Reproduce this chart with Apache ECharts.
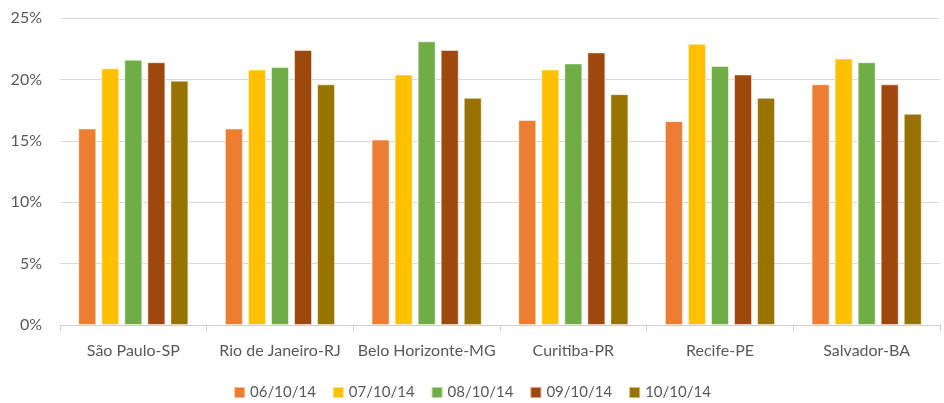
<!DOCTYPE html>
<html>
<head>
<meta charset="utf-8">
<script src="https://cdn.jsdelivr.net/npm/echarts@6/dist/echarts.min.js"></script>
<style>
  html, body { margin: 0; padding: 0; background: #fff; }
  #main { width: 944px; height: 403px; }
</style>
</head>
<body>
<div id="main"></div>
<script>
// cities on the x axis
const cities = ['São Paulo-SP', 'Rio de Janeiro-RJ', 'Belo Horizonte-MG', 'Curitiba-PR', 'Recife-PE', 'Salvador-BA'];
const dates = ['06/10/14', '07/10/14', '08/10/14', '09/10/14', '10/10/14'];
const colors = ['#ED7D31', '#FFC000', '#70AD47', '#9E480E', '#997300'];

// percent values per date
const d0610 = [16.0, 16.0, 15.1, 16.7, 16.6, 19.6];
const d0710 = [20.9, 20.8, 20.4, 20.8, 22.9, 21.7];
const d0810 = [21.6, 21.0, 23.1, 21.3, 21.1, 21.4];
const d0910 = [21.4, 22.4, 22.4, 22.2, 20.4, 19.6];
const d1010 = [19.9, 19.6, 18.5, 18.8, 18.5, 17.2];
const allSeries = [d0610, d0710, d0810, d0910, d1010];

const font = 'Lato, "Open Sans", sans-serif';

function renderChart() {
    var myChart = echarts.init(document.getElementById('main'));

    var option = {
        animation: false,
        color: colors,
        grid: { left: 60, right: 4, top: 18, bottom: 78 },
        legend: {
            top: 380,
            left: 'center',
            icon: 'rect',
            itemWidth: 11,
            itemHeight: 11,
            itemGap: 16,
            textStyle: { color: '#595959', fontSize: 15, fontFamily: font }
        },
        xAxis: {
            type: 'category',
            data: cities,
            axisLine: { lineStyle: { color: '#d0d0d0', width: 1 } },
            axisTick: { show: true, interval: 0, length: 6, lineStyle: { color: '#d0d0d0' } },
            axisLabel: { interval: 0, color: '#595959', fontSize: 16, fontFamily: font, margin: 18 }
        },
        yAxis: {
            type: 'value',
            min: 0,
            max: 25,
            interval: 5,
            axisLine: { show: false },
            axisTick: { show: false },
            splitLine: { lineStyle: { color: '#d9d9d9', width: 1 } },
            axisLabel: { color: '#595959', fontSize: 16, fontFamily: font, margin: 18, formatter: '{value}%' }
        },
        series: allSeries.map(function (vals, i) {
            return {
                name: dates[i],
                type: 'bar',
                data: vals,
                barWidth: 18,
                barGap: '28%',
                itemStyle: { borderColor: 'rgba(255,255,255,0.5)', borderWidth: 1 }
            };
        })
    };

    myChart.setOption(option);
}

renderChart();
</script>
</body>
</html>
